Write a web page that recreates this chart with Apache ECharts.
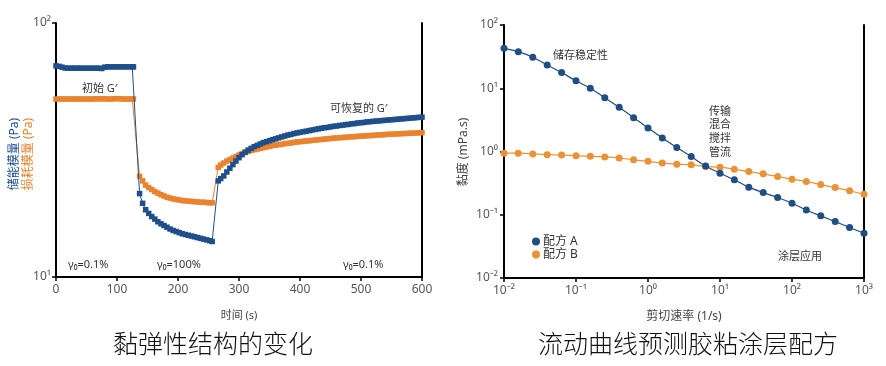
<!DOCTYPE html>
<html><head><meta charset="utf-8">
<script src="https://cdn.jsdelivr.net/npm/echarts@6/dist/echarts.min.js"></script>
<style>html,body{margin:0;padding:0;background:#fff}#c{width:886px;height:366px}</style>
</head><body><div id="c"></div>
<script>
// ---- Left chart: viscoelastic structure change (time sweep) ----
const timeInit = [0,5,10,15,20,25,30,35,40,45,50,55,60,65,70,75,80,85,90,95,100,105,110,115,120,125,127];
const gPrimeInit = [67.8,67.5,67.0,66.5,66.4,66.4,66.4,66.4,66.4,66.4,66.4,66.4,66.4,66.4,66.4,66.2,67.0,67.2,67.2,67.2,67.2,67.2,67.2,67.2,67.2,67.2,67.2];
const gDoubleInit = [50.2,50.2,50.2,50.2,50.2,50.2,50.2,50.2,50.2,50.2,50.2,50.2,50.2,50.3,50.3,50.3,50.3,50.2,50.2,50.3,50.4,50.3,50.2,50.2,50.2,50.2,50.2];

const timeShear = [137,142,147,152,157,162,167,172,177,182,187,192,197,202,207,212,217,222,227,232,237,242,247,252,256];
const gPrimeShear = [21.3,19.5,18.4,17.8,17.3,16.9,16.5,16.2,15.95,15.7,15.45,15.25,15.1,14.95,14.8,14.7,14.6,14.5,14.4,14.3,14.2,14.1,14.0,13.9,13.8];
const gDoubleShear = [24.9,23.9,23.0,22.5,22.1,21.7,21.4,21.1,20.85,20.6,20.45,20.3,20.2,20.1,20.0,19.95,19.9,19.85,19.8,19.75,19.7,19.7,19.65,19.6,19.6];

const timeRecov = [266,270,275,280,285,290,295,300,305,310,315,320,325,330,335,340,345,350,355,360,365,370,375,380,385,390,395,400,405,410,415,420,425,430,435,440,445,450,455,460,465,470,475,480,485,490,495,500,505,510,515,520,525,530,535,540,545,550,555,560,565,570,575,580,585,590,595,600];
const gPrimeRecov = [23.9,24.4,25.0,25.9,26.8,27.7,28.6,29.5,30.3,31.0,31.6,32.1,32.6,33.0,33.4,33.8,34.1,34.4,34.7,35.0,35.3,35.6,35.9,36.2,36.4,36.7,36.9,37.1,37.3,37.5,37.7,37.9,38.1,38.3,38.5,38.7,38.8,39.0,39.2,39.3,39.5,39.6,39.8,39.9,40.1,40.2,40.4,40.5,40.6,40.8,40.9,41.0,41.1,41.2,41.3,41.4,41.5,41.6,41.7,41.8,41.9,42.0,42.1,42.2,42.3,42.4,42.5,42.6];
const gDoubleRecov = [27.0,27.6,28.1,28.6,29.0,29.4,29.8,30.2,30.6,30.9,31.2,31.5,31.7,31.9,32.1,32.3,32.5,32.7,32.9,33.0,33.2,33.3,33.5,33.6,33.7,33.9,34.0,34.1,34.2,34.3,34.4,34.5,34.6,34.7,34.8,34.9,35.0,35.1,35.2,35.3,35.35,35.4,35.5,35.6,35.65,35.7,35.8,35.85,35.9,36.0,36.05,36.1,36.2,36.25,36.3,36.4,36.45,36.5,36.55,36.6,36.65,36.7,36.75,36.8,36.85,36.9,36.95,37.0];

const timeTicks = [0,100,200,300,400,500,600];

// ---- Right chart: flow curve ----
const shearRate = [0.01,0.0158,0.0251,0.0398,0.0631,0.1,0.158,0.251,0.398,0.631,1,1.58,2.51,3.98,6.31,10,15.8,25.1,39.8,63.1,100,158,251,398,631,1000];
const viscA = [42.8,37.9,30.9,23.3,17.7,13.1,10.0,7.1,5.0,3.43,2.36,1.64,1.16,0.83,0.59,0.454,0.356,0.273,0.224,0.187,0.152,0.119,0.096,0.078,0.063,0.051];
const viscB = [0.94,0.94,0.916,0.89,0.88,0.853,0.84,0.82,0.79,0.74,0.70,0.656,0.63,0.615,0.58,0.565,0.525,0.482,0.443,0.402,0.365,0.335,0.30,0.269,0.239,0.211];

const seriesNames = ['配方 A', '配方 B'];

const timeAll = timeInit.concat(timeShear, timeRecov);
const gPrimeAll = gPrimeInit.concat(gPrimeShear, gPrimeRecov);
const gDoubleAll = gDoubleInit.concat(gDoubleShear, gDoubleRecov);
const zip = (xs, ys) => xs.map((x, i) => [x, ys[i]]);

const SUP = {'-':'⁻','0':'⁰','1':'¹','2':'²','3':'³'};
const pow10 = v => { const e = Math.round(Math.log10(v)); return '10' + String(e).split('').map(c => SUP[c]).join(''); };

const FONT = '"Noto Sans", "Noto Sans CJK SC", sans-serif';
const BLUE_L = '#1f4f8b', ORANGE_L = '#e9832f';
const BLUE_R = '#1f4e82', ORANGE_R = '#ea9238';
const axisLine = {show: true, lineStyle: {color: '#000', width: 2}};
const tick = {show: true, inside: false, length: 4, lineStyle: {color: '#000', width: 1.5}};
const lbl = {color: '#555', fontSize: 12, fontFamily: FONT};

const chart = echarts.init(document.getElementById('c'), null, {renderer: 'canvas'});
const txt = (x, y, text, extra) => ({type: 'text', x: x, y: y, style: Object.assign({text: text, fill: '#333', font: '11px ' + FONT, textAlign: 'left', textVerticalAlign: 'middle', align: 'left', verticalAlign: 'middle'}, extra || {})});
const rot = (x, y, text, color) => ({type: 'text', x: x, y: y, rotation: Math.PI / 2, style: {text: text, fill: color, font: '12px ' + FONT, textAlign: 'center', textVerticalAlign: 'middle', align: 'center', verticalAlign: 'middle'}});
const cap = (x, text) => ({type: 'text', x: x, y: 343, style: {text: text, fill: '#111', font: '300 25px "Noto Sans CJK SC", sans-serif', textAlign: 'center', textVerticalAlign: 'middle', align: 'center', verticalAlign: 'middle'}});

chart.setOption({
  animation: false,
  backgroundColor: '#fff',
  grid: [
    {left: 56, right: 464, top: 23, bottom: 89},
    {left: 504, right: 22, top: 25, bottom: 88}
  ],
  xAxis: [
    {type: 'value', gridIndex: 0, min: 0, max: 600, interval: 100, axisLine: axisLine, axisTick: tick,
     axisLabel: Object.assign({margin: 7, formatter: v => timeTicks.includes(v) ? String(v) : ''}, lbl), splitLine: {show: false},
     name: '时间 (s)', nameLocation: 'middle', nameGap: 33, nameTextStyle: {color: '#444', fontSize: 11, fontFamily: FONT}},
    {type: 'log', gridIndex: 1, min: 0.01, max: 1000, logBase: 10, axisLine: axisLine, axisTick: tick,
     axisLabel: Object.assign({margin: 7, formatter: pow10}, lbl), splitLine: {show: false}, minorTick: {show: false},
     name: '剪切速率 (1/s)', nameLocation: 'middle', nameGap: 33, nameTextStyle: {color: '#444', fontSize: 12, fontFamily: FONT}}
  ],
  yAxis: [
    {type: 'log', gridIndex: 0, min: 10, max: 100, logBase: 10, axisLine: axisLine, axisTick: tick,
     axisLabel: Object.assign({margin: 5, formatter: pow10}, lbl), splitLine: {show: false}},
    {type: 'log', gridIndex: 0, position: 'right', min: 10, max: 100, axisLine: axisLine, axisTick: {show: false}, axisLabel: {show: false}, splitLine: {show: false}},
    {type: 'log', gridIndex: 1, min: 0.01, max: 100, logBase: 10, axisLine: axisLine, axisTick: tick,
     axisLabel: Object.assign({margin: 6, formatter: pow10}, lbl), splitLine: {show: false}},
    {type: 'log', gridIndex: 1, position: 'right', min: 0.01, max: 100, axisLine: axisLine, axisTick: {show: false}, axisLabel: {show: false}, splitLine: {show: false}}
  ],
  legend: {
    data: seriesNames, orient: 'vertical', left: 527, top: 230, icon: 'circle', itemWidth: 8, itemHeight: 8, itemGap: 0,
    textStyle: {color: '#333', fontSize: 12, fontFamily: FONT, lineHeight: 13, padding: [0, 0, 0, -2]}
  },
  series: [
    {name: '损耗模量', type: 'line', xAxisIndex: 0, yAxisIndex: 0, data: zip(timeAll, gDoubleAll),
     symbol: 'rect', symbolSize: 5.5, itemStyle: {color: ORANGE_L}, lineStyle: {color: ORANGE_L, width: 1}, z: 2},
    {name: '储能模量', type: 'line', xAxisIndex: 0, yAxisIndex: 0, data: zip(timeAll, gPrimeAll),
     symbol: 'rect', symbolSize: 5.5, itemStyle: {color: BLUE_L}, lineStyle: {color: BLUE_L, width: 1}, z: 3},
    {name: seriesNames[0], type: 'line', xAxisIndex: 1, yAxisIndex: 2, data: zip(shearRate, viscA), smooth: 0.3,
     symbol: 'circle', symbolSize: 7, itemStyle: {color: BLUE_R}, lineStyle: {color: BLUE_R, width: 1.2}, z: 3},
    {name: seriesNames[1], type: 'line', xAxisIndex: 1, yAxisIndex: 2, data: zip(shearRate, viscB), smooth: 0.3,
     symbol: 'circle', symbolSize: 7, itemStyle: {color: ORANGE_R}, lineStyle: {color: ORANGE_R, width: 1.2}, z: 2}
  ],
  graphic: [
    rot(15, 154, '储能模量 (Pa)', BLUE_L),
    rot(29, 154, '损耗模量 (Pa)', ORANGE_L),
    rot(464, 152, '黏度 (mPa.s)', '#444'),
    txt(82, 89, '初始 G′'),
    txt(330, 109, '可恢复的 G′'),
    txt(68, 265, 'γ₀=0.1%'),
    txt(157, 265, 'γ₀=100%'),
    txt(343, 265, 'γ₀=0.1%'),
    txt(553, 56, '储存稳定性'),
    txt(709, 132, '传输\n混合\n搅拌\n管流', {lineHeight: 13.7}),
    txt(778, 257, '涂层应用'),
    cap(213, '黏弹性结构的变化'),
    cap(688, '流动曲线预测胶粘涂层配方')
  ]
});
</script></body></html>
